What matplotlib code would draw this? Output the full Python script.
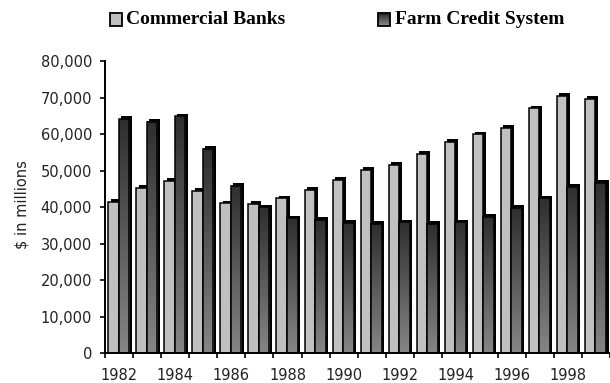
import numpy as np
import matplotlib
matplotlib.use("Agg")
import matplotlib.pyplot as plt
from matplotlib.colors import LinearSegmentedColormap
from matplotlib.patches import Rectangle

# ---------------------------------------------------------------------------
# Data ($ in millions)
# ---------------------------------------------------------------------------
years = list(range(1982, 2000))
commercial_banks = [41500, 45300, 47200, 44400, 41000, 40800, 42400, 44700, 47400,
                    50200, 51600, 54500, 57900, 59900, 61600, 67000, 70500, 69700]
farm_credit = [64100, 63400, 64800, 56000, 45800, 39900, 36900, 36400, 35600,
               35300, 35800, 35300, 35800, 37400, 39700, 42400, 45600, 46700]
series_names = ["Commercial Banks", "Farm Credit System"]
yticks = list(range(0, 80001, 10000))

# ---------------------------------------------------------------------------
# Styling
# ---------------------------------------------------------------------------
LIGHT = "#c0c0c0"
grad_cmap = LinearSegmentedColormap.from_list("fcs", ["#2f2f2f", "#858585"])
FACE_W = 0.375        # width of the front face of each bar (category units)
LIGHT_X0 = -0.393     # left edge of the light bar relative to category centre
DX, DY = 0.09, 750    # fake 3-D depth offset

fig = plt.figure(figsize=(6.10, 3.83), dpi=100)
ax = fig.add_axes([0.1725, 0.0783, 0.8275, 0.7624])

x = np.arange(len(years))
grad = np.linspace(0, 1, 64).reshape(-1, 1)

for i, (cb, fc) in enumerate(zip(commercial_banks, farm_credit)):
    x_light = x[i] + LIGHT_X0
    x_dark = x_light + FACE_W
    # light bar: black depth then face
    ax.bar(x_light + DX, cb + DY, width=FACE_W, align="edge", color="black", zorder=2)
    ax.bar(x_light, cb, width=FACE_W, align="edge", color=LIGHT,
           edgecolor="black", linewidth=1.1, zorder=3)
    # dark bar: black depth, gradient face, outline
    ax.bar(x_dark + DX, fc + DY, width=FACE_W, align="edge", color="black", zorder=4)
    ax.imshow(grad, cmap=grad_cmap, aspect="auto", origin="upper",
              extent=(x_dark, x_dark + FACE_W, 0, fc), zorder=5, interpolation="bilinear")
    ax.bar(x_dark, fc, width=FACE_W, align="edge", fill=False,
           edgecolor="black", linewidth=1.1, zorder=6)

ax.set_xlim(-0.5, len(years) - 0.5)
ax.set_ylim(0, 80000)

# y axis
ax.set_yticks(yticks)
ax.set_yticklabels([f"{v:,}" for v in yticks])
# x axis: ticks at category boundaries, labels every other year in the middle
ax.set_xticks(np.arange(len(years) + 1) - 0.5)
ax.set_xticklabels([])
ax.set_xticks(x[::2], minor=True)
ax.set_xticklabels([str(y) for y in years[::2]], minor=True)

for s in ["top", "right"]:
    ax.spines[s].set_visible(False)
for s in ["left", "bottom"]:
    ax.spines[s].set_linewidth(1.4)
    ax.spines[s].set_zorder(10)

ax.tick_params(axis="both", which="major", direction="out", length=3.5, width=1.2,
               labelsize=10.5, colors="black")
ax.tick_params(axis="y", pad=6)
ax.tick_params(axis="x", which="minor", length=0, pad=11, labelsize=10.5)
for lab in ax.get_yticklabels() + ax.get_xticklabels(minor=True):
    lab.set_fontfamily("DejaVu Sans")
    lab.set_color("#222222")

fig.text(22 / 610, 1 - 205 / 383, "$ in millions", rotation=90, ha="center",
         va="center", fontsize=10.5, family="DejaVu Sans", color="#222222")

# ---------------------------------------------------------------------------
# Legend drawn by hand at the top
# ---------------------------------------------------------------------------
W, H = 610, 383


def legend_box(x0, gradient):
    y0 = H - 26
    if gradient:
        n = 8
        for k in range(n):
            c = grad_cmap(k / (n - 1))
            fig.add_artist(Rectangle((x0 / W, (y0 + 13 - 13 * (k + 1) / n) / H),
                                     12 / W, 13 / n / H, transform=fig.transFigure,
                                     facecolor=c, edgecolor="none"))
        fig.add_artist(Rectangle((x0 / W, y0 / H), 12 / W, 13 / H,
                                 transform=fig.transFigure, fill=False,
                                 edgecolor="black", linewidth=1.3))
    else:
        fig.add_artist(Rectangle((x0 / W, y0 / H), 12 / W, 13 / H,
                                 transform=fig.transFigure, facecolor=LIGHT,
                                 edgecolor="black", linewidth=1.3))


legend_box(110, False)
legend_box(378, True)
leg_font = dict(family="Liberation Serif", weight="bold", size=14, va="center", ha="left")
fig.text(126 / W, 1 - 19 / H, series_names[0], **leg_font)
fig.text(395 / W, 1 - 19 / H, series_names[1], **leg_font)

fig.savefig("out.png", dpi=100)
plt.close(fig)
